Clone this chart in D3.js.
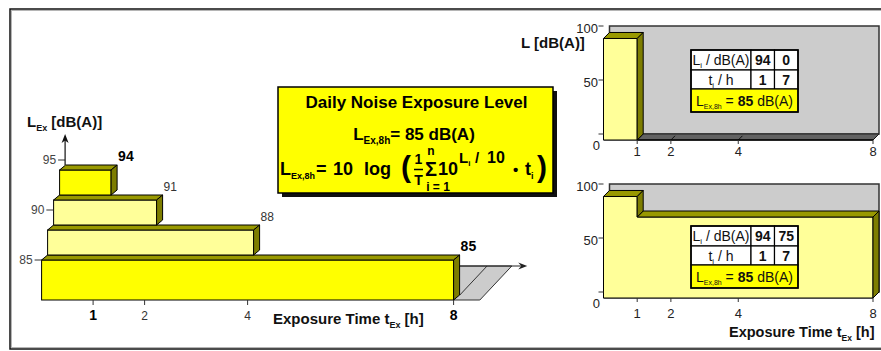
<!DOCTYPE html>
<html>
<head>
<meta charset="utf-8">
<title>Daily Noise Exposure Level</title>
<script src="https://cdn.jsdelivr.net/npm/d3@7/dist/d3.min.js"></script>
<style>
  html, body { margin: 0; padding: 0; background: #fff; }
  svg { display: block; font-family: "Liberation Sans", Arial, Helvetica, sans-serif; }
</style>
</head>
<body>
<svg id="chart" width="881" height="351"></svg>
<script>
// ---- data ----
const stepLevels = [85, 88, 91, 94];      // L_Ex in dB(A) for each exposure time
const stepHours = [8, 4, 2, 1];           // exposure time in h
const leftYTicks = [85, 90, 95];
const leftXTicks = [1, 2, 4, 8];

const upperLevels = [94, 0];              // L_i in dB(A) per interval
const lowerLevels = [94, 75];
const intervalHours = [1, 7];             // t_i in h
const rightYTicks = [0, 50, 100];
const rightXTicks = [1, 2, 4, 8];
const dailyLevel = 85;                    // L_Ex,8h in dB(A)

// ---- styles ----
const stepFills = ["#ffff00", "#ffff99", "#ffff99", "#ffff00"];
const stepLabelBold = [true, false, false, true];
const leftXTickBold = [true, false, false, true];
const topFill = "#999900", sideFill = "#7d7d00";

const svg = d3.select("#chart");
const line = d3.line();
const poly = pts => line(pts) + "Z";

// text with sub/superscript pieces
function rich(g, x, y, parts, attrs = {}) {
  const t = g.append("text").attr("x", x).attr("y", y);
  for (const [k, v] of Object.entries(attrs)) t.attr(k, v);
  let cur = 0;
  for (const p of parts) {
    const off = p.off || 0;
    const s = t.append("tspan").text(p.t);
    if (off - cur) s.attr("dy", off - cur);
    cur = off;
    if (p.size) s.attr("font-size", p.size);
    if (p.bold !== undefined) s.attr("font-weight", p.bold ? "bold" : "normal");
  }
  return t;
}

// ---- frame ----
svg.append("rect").attr("x", 10).attr("y", 9).attr("width", 900).attr("height", 340)
  .attr("fill", "#fff").attr("stroke", "#111").attr("stroke-width", 1.5);
svg.append("rect").attr("x", 11.5).attr("y", 10.5).attr("width", 900).attr("height", 337)
  .attr("fill", "none").attr("stroke", "#b5b5b5").attr("stroke-width", 1);

// ================= left: stacked exposure steps =================
const xL = d3.scaleLinear().domain([0, 8]).range([41.6, 453.6]);
const yL = d3.scaleLinear().domain([85, 95]).range([260, 160]);
const baseLevel = 81;
const dL = { x: 6, y: -5 };
const gL = svg.append("g");

// time-axis floor beyond 8 h
const axisLevel = 84.4;
const yAx = yL(axisLevel), yBase = yL(baseLevel);
const sideX = xL(8) + dL.x;
gL.append("path")
  .attr("d", poly([[sideX, yAx], [xL(9.13), yAx], [xL(8.51), yBase], [xL(8), yBase]]))
  .attr("fill", "#cccccc").attr("stroke", "#333").attr("stroke-width", 1);
const slope = (yBase - yAx) / (xL(9.13) - xL(8.51));
gL.append("path")
  .attr("d", line([[xL(8.65), yAx], [sideX, yAx + (xL(8.65) - sideX) * slope]]))
  .attr("stroke", "#333").attr("fill", "none");
gL.append("path").attr("d", line([[sideX, yAx], [xL(9.35), yAx]]))
  .attr("stroke", "#222").attr("stroke-width", 1.2);
gL.append("path")
  .attr("d", poly([[xL(9.43), yAx], [xL(9.43) - 9, yAx - 3.5], [xL(9.43) - 6, yAx], [xL(9.43) - 9, yAx + 3.5]]))
  .attr("fill", "#222");

// bars
stepLevels.forEach((v, k) => {
  const l = xL(0) + k * dL.x;
  const r = l + xL(stepHours[k]) - xL(0);
  const top = yL(v);
  const bot = k === 0 ? yBase : yL(stepLevels[k - 1]) + dL.y;
  gL.append("rect").attr("x", l).attr("y", top).attr("width", r - l).attr("height", bot - top)
    .attr("fill", stepFills[k]).attr("stroke", "#000").attr("stroke-width", 1);
  gL.append("path")
    .attr("d", poly([[l, top], [l + dL.x, top + dL.y], [r + dL.x, top + dL.y], [r, top]]))
    .attr("fill", topFill).attr("stroke", "#000").attr("stroke-width", 1).attr("stroke-linejoin", "round");
  gL.append("path")
    .attr("d", poly([[r, top], [r + dL.x, top + dL.y], [r + dL.x, bot + dL.y], [r, bot]]))
    .attr("fill", sideFill).attr("stroke", "#000").attr("stroke-width", 1).attr("stroke-linejoin", "round");
  gL.append("text").attr("x", r + dL.x + 1).attr("y", top + dL.y - 4)
    .attr("font-size", stepLabelBold[k] ? 14 : 12)
    .attr("font-weight", stepLabelBold[k] ? "bold" : "normal")
    .attr("fill", stepLabelBold[k] ? "#000" : "#333")
    .text(v);
});

// level axis (slanted along the step corners)
const tickX = v => xL(0) + (v - 85) * 2.35;
leftYTicks.forEach(v => {
  gL.append("path").attr("d", line([[tickX(v) - 7, yL(v)], [tickX(v), yL(v)]]))
    .attr("stroke", "#333").attr("stroke-width", 1);
  gL.append("text").attr("x", tickX(v) - 9).attr("y", yL(v)).attr("dy", "0.35em")
    .attr("text-anchor", "end").attr("font-size", 12).attr("fill", "#444").text(v);
});
const axX = tickX(95);
gL.append("path").attr("d", line([[axX, yL(stepLevels[3]) + dL.y], [axX, yL(97.3)]]))
  .attr("stroke", "#111").attr("stroke-width", 1.2);
gL.append("path").attr("d", poly([[axX, yL(97.6)], [axX - 3.5, yL(96.7)], [axX, yL(96.95)], [axX + 3.5, yL(96.7)]]))
  .attr("fill", "#111");
rich(gL, 27, 127, [
  { t: "L", size: 15 },
  { t: "Ex", size: 9, off: 4 },
  { t: "\u00a0[dB(A)]", size: 15, off: 0 }
], { "font-weight": "bold", fill: "#111" });

// time axis
leftXTicks.forEach((t, i) => {
  gL.append("path").attr("d", line([[xL(t), yBase], [xL(t), yBase + 5]]))
    .attr("stroke", "#333").attr("stroke-width", 1);
  gL.append("text").attr("x", xL(t)).attr("y", yBase + 20).attr("text-anchor", "middle")
    .attr("font-size", leftXTickBold[i] ? 14 : 12)
    .attr("font-weight", leftXTickBold[i] ? "bold" : "normal")
    .attr("fill", leftXTickBold[i] ? "#000" : "#333").text(t);
});
rich(gL, 273, 324, [
  { t: "Exposure Time t", size: 15 },
  { t: "Ex", size: 9, off: 4 },
  { t: " [h]", size: 15, off: 0 }
], { "font-weight": "bold", fill: "#111" });

// ================= formula box =================
const box = { x: 278, y: 87, w: 275, h: 106 };
const gF = svg.append("g").attr("font-weight", "bold").attr("fill", "#000");
gF.append("rect").attr("x", box.x + 4).attr("y", box.y + 4).attr("width", box.w).attr("height", box.h)
  .attr("fill", "#111");
gF.append("rect").attr("x", box.x).attr("y", box.y).attr("width", box.w).attr("height", box.h)
  .attr("fill", "#ffff00").attr("stroke", "#000").attr("stroke-width", 1.5);
gF.append("text").attr("x", box.x + box.w / 2 + 1).attr("y", 108).attr("text-anchor", "middle")
  .attr("font-size", 17).text("Daily Noise Exposure Level");
rich(gF, 414, 140, [
  { t: "L", size: 17 },
  { t: "Ex,8h", size: 10, off: 4 },
  { t: "= " + dailyLevel + " dB(A)", size: 17, off: 0 }
], { "text-anchor": "middle" });
// L_Ex,8h = 10 log( 1/T  sum_{i=1}^{n} 10^(L_i/10) * t_i )
rich(gF, 280, 175, [
  { t: "L", size: 18 },
  { t: "Ex,8h", size: 9, off: 4 }
]);
gF.append("text").attr("x", 316).attr("y", 175).attr("font-size", 18).text("=");
gF.append("text").attr("x", 333).attr("y", 175).attr("font-size", 18).text("10");
gF.append("text").attr("x", 364).attr("y", 175).attr("font-size", 18).text("log");
gF.append("text").attr("x", 401).attr("y", 177).attr("font-size", 30).text("(");
gF.append("text").attr("x", 418.5).attr("y", 164).attr("font-size", 14).attr("text-anchor", "middle").text("1");
gF.append("path").attr("d", line([[414, 169.5], [423, 169.5]])).attr("stroke", "#000").attr("stroke-width", 1.5);
gF.append("text").attr("x", 418.5).attr("y", 185).attr("font-size", 14).attr("text-anchor", "middle").text("T");
gF.append("text").attr("x", 431).attr("y", 175.5).attr("font-size", 20).attr("text-anchor", "middle").text("\u03a3");
gF.append("text").attr("x", 431).attr("y", 155).attr("font-size", 12).attr("text-anchor", "middle").text("n");
gF.append("text").attr("x", 438).attr("y", 191).attr("font-size", 12).attr("text-anchor", "middle").text("i = 1");
gF.append("text").attr("x", 438).attr("y", 175).attr("font-size", 18).text("10");
rich(gF, 459, 163, [
  { t: "L", size: 15 },
  { t: "i", size: 8, off: 3 }
]);
gF.append("text").attr("x", 475).attr("y", 163).attr("font-size", 15).text("/");
gF.append("text").attr("x", 487).attr("y", 163).attr("font-size", 16).text("10");
gF.append("text").attr("x", 513).attr("y", 175).attr("font-size", 15).text("\u2022");
rich(gF, 525, 175, [
  { t: "t", size: 18 },
  { t: "i", size: 9, off: 4 }
]);
gF.append("text").attr("x", 537).attr("y", 177).attr("font-size", 30).text(")");

// ================= right: level-time panels =================
const xR = d3.scaleLinear().domain([0, 8]).range([603.5, 873]);
const yU = d3.scaleLinear().domain([0, 100]).range([140, 32]);
const yD = d3.scaleLinear().domain([0, 100]).range([298, 190]);
const dR = { x: 6, y: -6 };

function drawTable(g, x0, y0, levels) {
  const colW = [60, 23.5, 23.5], rowH = [20, 19, 23];
  const cx = [x0, x0 + colW[0], x0 + colW[0] + colW[1]];
  const ry = [y0, y0 + rowH[0], y0 + rowH[0] + rowH[1]];
  const W = d3.sum(colW);
  const rows = [
    { label: [{ t: "L", size: 14 }, { t: "i", size: 8, off: 3 }, { t: " / dB(A)", size: 14, off: 0 }], vals: levels },
    { label: [{ t: "t", size: 14 }, { t: "i", size: 8, off: 3 }, { t: " / h", size: 14, off: 0 }], vals: intervalHours }
  ];
  rows.forEach((row, r) => {
    cx.forEach((x, c) => {
      g.append("rect").attr("x", x).attr("y", ry[r]).attr("width", colW[c]).attr("height", rowH[r])
        .attr("fill", "#fff").attr("stroke", "#000").attr("stroke-width", 1.2);
    });
    rich(g, cx[0] + colW[0] / 2, ry[r] + rowH[r] / 2 + 5, row.label,
      { "text-anchor": "middle", fill: "#111" });
    row.vals.forEach((v, c) => {
      g.append("text").attr("x", cx[c + 1] + colW[c + 1] / 2).attr("y", ry[r] + rowH[r] / 2 + 5)
        .attr("text-anchor", "middle").attr("font-size", 14).attr("font-weight", "bold")
        .attr("fill", "#111").text(v);
    });
  });
  g.append("rect").attr("x", x0).attr("y", ry[2]).attr("width", W).attr("height", rowH[2])
    .attr("fill", "#ffff00").attr("stroke", "#000").attr("stroke-width", 1.2);
  rich(g, x0 + W / 2, ry[2] + rowH[2] / 2 + 5, [
    { t: "L", size: 14 },
    { t: "Ex,8h", size: 7, off: 3 },
    { t: " = ", size: 14, off: 0 },
    { t: String(dailyLevel), size: 14, bold: true },
    { t: " dB(A)", size: 14, bold: false }
  ], { "text-anchor": "middle", fill: "#111" });
  g.append("rect").attr("x", x0).attr("y", y0).attr("width", W).attr("height", d3.sum(rowH))
    .attr("fill", "none").attr("stroke", "#000").attr("stroke-width", 1.6);
}

function drawPanel(levels, y, tableY, labelGap) {
  const g = svg.append("g");
  const d = dR, x = xR;
  const y0 = y(0);
  // back wall
  g.append("rect").attr("x", x(0) + d.x).attr("y", y(100) + d.y)
    .attr("width", x(8) - x(0)).attr("height", y(0) - y(100))
    .attr("fill", "#cccccc").attr("stroke", "#333").attr("stroke-width", 1.5);
  // floor
  g.append("path").attr("d", poly([[x(0), y0], [x(0) + d.x, y0 + d.y], [x(8) + d.x, y0 + d.y], [x(8), y0]]))
    .attr("fill", "#626262").attr("stroke", "#222").attr("stroke-width", 1);
  rightXTicks.forEach(t => {
    g.append("path").attr("d", line([[x(t), y0], [x(t) + d.x * 0.7, y0 + d.y * 0.7]]))
      .attr("stroke", "#111").attr("stroke-width", 1);
  });
  // level over time
  const ends = d3.cumsum(intervalHours);
  const starts = [0, ...Array.from(ends).slice(0, -1)];
  const front = [[x(0), y0]];
  levels.forEach((v, i) => { front.push([x(starts[i]), y(v)], [x(ends[i]), y(v)]); });
  front.push([x(ends[ends.length - 1]), y0]);
  g.append("path").attr("d", poly(front))
    .attr("fill", "#ffff99").attr("stroke", "#000").attr("stroke-width", 1).attr("stroke-linejoin", "round");
  levels.forEach((v, i) => {
    if (v <= 0) return;
    const a = x(starts[i]), b = x(ends[i]), yy = y(v);
    g.append("path").attr("d", poly([[a, yy], [a + d.x, yy + d.y], [b + d.x, yy + d.y], [b, yy]]))
      .attr("fill", topFill).attr("stroke", "#000").attr("stroke-width", 1).attr("stroke-linejoin", "round");
  });
  levels.forEach((v, i) => {
    const next = i + 1 < levels.length ? levels[i + 1] : 0;
    if (v <= next) return;
    const b = x(ends[i]);
    g.append("path").attr("d", poly([[b, y(v)], [b + d.x, y(v) + d.y], [b + d.x, y(next) + d.y], [b, y(next)]]))
      .attr("fill", sideFill).attr("stroke", "#000").attr("stroke-width", 1).attr("stroke-linejoin", "round");
  });
  // axes
  rightYTicks.forEach(v => {
    g.append("path").attr("d", line([[x(0) - 5, y(v) + d.y], [x(0), y(v) + d.y]]))
      .attr("stroke", "#333");
    g.append("text").attr("x", v === 0 ? 600 : 598)
      .attr("y", v === 0 ? y0 + 5 : y(v) + d.y + 2).attr("dy", "0.35em")
      .attr("text-anchor", "end").attr("font-size", 13).attr("fill", "#222").text(v);
  });
  rightXTicks.forEach(t => {
    g.append("path").attr("d", line([[x(t), y0], [x(t), y0 + 4]])).attr("stroke", "#333");
    g.append("text").attr("x", x(t)).attr("y", y0 + labelGap).attr("dy", "0.35em")
      .attr("text-anchor", "middle").attr("font-size", 13).attr("fill", "#222").text(t);
  });
  drawTable(g, 691, tableY, levels);
}

drawPanel(upperLevels, yU, 50, 11);
drawPanel(lowerLevels, yD, 226, 15);

svg.append("text").attr("x", 521).attr("y", 48).attr("font-size", 15).attr("font-weight", "bold")
  .attr("fill", "#111").text("L [dB(A)]");
rich(svg, 729, 337, [
  { t: "Exposure Time t", size: 14.5 },
  { t: "Ex", size: 8.5, off: 4 },
  { t: " [h]", size: 14.5, off: 0 }
], { "font-weight": "bold", fill: "#111" });
</script>
</body>
</html>
